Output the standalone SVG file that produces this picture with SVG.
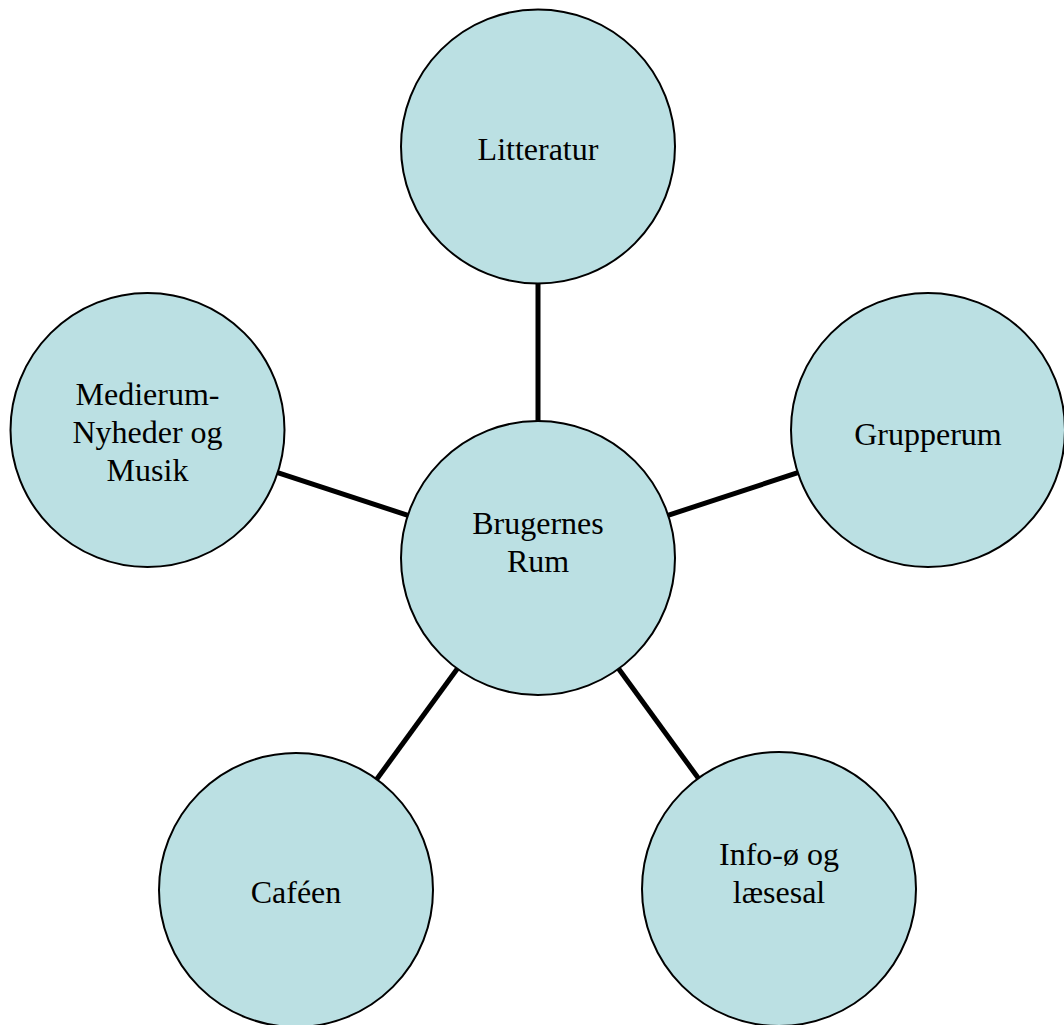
<svg xmlns="http://www.w3.org/2000/svg" width="1064" height="1025" viewBox="0 0 1064 1025">
<style>
.node circle{fill:#BBE0E3;stroke:#000;stroke-width:2}
.node text{font-family:"Liberation Serif","Times New Roman",serif;font-size:32px;fill:#000;text-anchor:middle}
.conn line{stroke:#000;stroke-width:5}
</style>
<rect width="1064" height="1025" fill="#fff"/>
<g id="connectors" class="conn">
<line x1="538" y1="558" x2="538" y2="146"/>
<line x1="538" y1="558" x2="928" y2="430"/>
<line x1="538" y1="558" x2="147.5" y2="430"/>
<line x1="538" y1="558" x2="296" y2="890"/>
<line x1="538" y1="558" x2="779" y2="889"/>
</g>
<g id="litteratur" class="node">
<circle cx="538" cy="146.5" r="137"/>
<text x="538" y="160">Litteratur</text>
</g>
<g id="grupperum" class="node">
<circle cx="928" cy="430" r="137"/>
<text x="928" y="445">Grupperum</text>
</g>
<g id="medierum" class="node">
<circle cx="147.5" cy="430" r="137"/>
<text x="147.5" y="405">Medierum-</text>
<text x="147.5" y="443">Nyheder og</text>
<text x="147.5" y="481">Musik</text>
</g>
<g id="brugernes-rum" class="node">
<circle cx="538" cy="558" r="137"/>
<text x="538" y="534">Brugernes</text>
<text x="538" y="572">Rum</text>
</g>
<g id="cafeen" class="node">
<circle cx="296" cy="890" r="137"/>
<text x="296" y="903">Caféen</text>
</g>
<g id="info-o" class="node">
<circle cx="779" cy="889" r="137"/>
<text x="779" y="865">Info-ø og</text>
<text x="779" y="903">læsesal</text>
</g>
</svg>
